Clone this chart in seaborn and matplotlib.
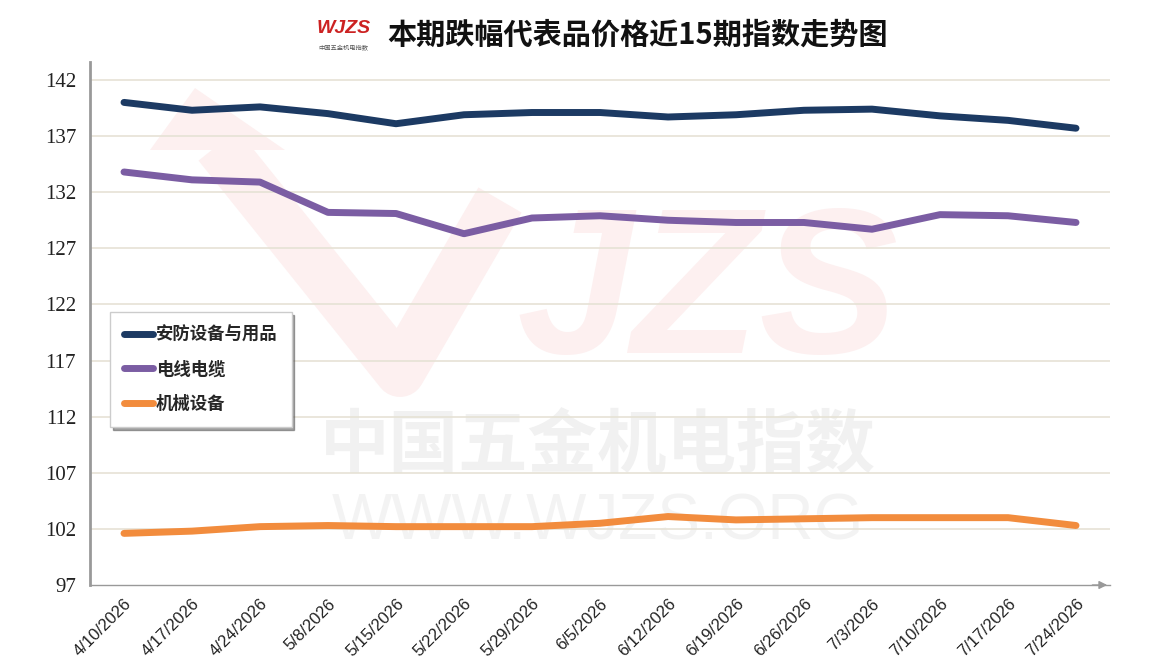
import matplotlib
matplotlib.use("Agg")
import matplotlib.pyplot as plt
import seaborn as sns
import pandas as pd
import numpy as np
from matplotlib.lines import Line2D
from matplotlib.patches import Polygon

dates = ["4/10/2026", "4/17/2026", "4/24/2026", "5/8/2026", "5/15/2026",
         "5/22/2026", "5/29/2026", "6/5/2026", "6/12/2026", "6/19/2026",
         "6/26/2026", "7/3/2026", "7/10/2026", "7/17/2026", "7/24/2026"]
security = [140.0, 139.3, 139.6, 139.0, 138.1, 138.9, 139.1, 139.1, 138.7, 138.9,
            139.3, 139.4, 138.8, 138.4, 137.7]
cable = [133.8, 133.1, 132.9, 130.2, 130.1, 128.3, 129.7, 129.9, 129.5, 129.3,
         129.3, 128.7, 130.0, 129.9, 129.3]
machinery = [101.6, 101.8, 102.2, 102.3, 102.2, 102.2, 102.2, 102.5, 103.1, 102.8,
             102.9, 103.0, 103.0, 103.0, 102.3]
series_names = ["安防设备与用品", "电线电缆", "机械设备"]
colors = ["#1c3a63", "#7b5da3", "#f28c3d"]
yticks = [97, 102, 107, 112, 117, 122, 127, 132, 137, 142]
title = "本期跌幅代表品价格近15期指数走势图"

sns.set_theme(style="white")
plt.rcParams['font.family'] = ['Noto Sans CJK SC', 'DejaVu Sans']

rows = []
for name, vals in zip(series_names, [security, cable, machinery]):
    for i, (d, v) in enumerate(zip(dates, vals)):
        rows.append({"idx": i, "date": d, "value": v, "series": name})
df = pd.DataFrame(rows)

W, H = 1160, 672
fig = plt.figure(figsize=(11.6, 6.72), dpi=100)
ax = fig.add_axes([90/W, 1-585/H, (1110-90)/W, (585-62)/H])
ax.patch.set_alpha(0)

# faint watermark: arrow + W stroke, "JZS" letters, Chinese name and URL
def fp(x, y):
    return (x / W, 1 - y / H)

wm = "#fdf0f0"
head = Polygon([fp(195, 88), fp(150, 150), fp(285, 150)], closed=True,
               transform=fig.transFigure, facecolor=wm, edgecolor="none", zorder=-2)
fig.patches.append(head)
wx, wy = zip(*[fp(218, 145), fp(400, 372), fp(500, 200)])
fig.lines.append(Line2D(wx, wy, transform=fig.transFigure, color=wm, lw=36,
                        solid_joinstyle="round", solid_capstyle="butt", zorder=-2))
fig.text(0.61, 0.555, "JZS", ha="center", va="center", fontsize=150,
         fontweight="bold", fontstyle="italic", color=wm, zorder=-2,
         family=['Liberation Sans'])
fig.text(0.515, 0.335, "中国五金机电指数", ha="center", va="center", fontsize=50,
         color="#f1f1f1", fontweight="bold", zorder=-2, family=['Noto Sans CJK SC'])
fig.text(0.515, 0.222, "WWW.WJZS.ORG", ha="center", va="center", fontsize=46,
         color="#f3f3f3", zorder=-2, family=['Liberation Sans'])

sns.lineplot(data=df, x="idx", y="value", hue="series", palette=colors,
             hue_order=series_names, linewidth=5, ax=ax, legend=False, sort=False,
             solid_capstyle="round", solid_joinstyle="round")

ax.set_ylim(97, 143.6)
ax.set_xlim(-0.41, 14.47)
ax.set_yticks(yticks)
ax.set_yticklabels([str(t) for t in yticks], family=['Liberation Serif'], fontsize=15, color="#222222")
ax.set_xticks(range(len(dates)))
ax.set_xticklabels(dates, rotation=45, ha="right", rotation_mode="anchor",
                   family=['Liberation Sans'], fontsize=12, color="#222222")
ax.tick_params(axis="x", which="major", length=0, pad=8)
ax.set_xticks(np.arange(-0.5, 14.6, 1), minor=True)
ax.tick_params(axis="x", which="minor", length=5, color="#999999", direction="out")
ax.tick_params(axis="y", length=6, color="#888888", direction="out", pad=4)
for t in yticks[1:]:
    ax.axhline(t, color="#e6e2d5", linewidth=1.2, zorder=0)
ax.set_xlabel("")
ax.set_ylabel("")
for s in ["top", "right"]:
    ax.spines[s].set_visible(False)
ax.spines["left"].set_color("#999999")
ax.spines["left"].set_linewidth(2)
ax.spines["bottom"].set_color("#999999")
ax.spines["bottom"].set_linewidth(1)
ax.annotate("", xy=(1.0, 0), xytext=(0.98, 0), xycoords="axes fraction",
            arrowprops=dict(arrowstyle="-|>", color="#999999", lw=1))

# legend
handles = [Line2D([0], [0], color=c, lw=5, solid_capstyle="round") for c in colors]
leg = ax.legend(handles, series_names, loc="upper left",
                bbox_to_anchor=((110-90)/1020, (585-312)/523),
                frameon=True, fancybox=False, shadow=True,
                handlelength=1.7, handletextpad=0.15, labelspacing=0.95,
                borderpad=0.8, borderaxespad=0,
                prop={'family': ['Noto Sans CJK SC'], 'size': 12.5, 'weight': 'bold'})
leg.get_frame().set_edgecolor("#cccccc")

# title and logo
fig.text(0.55, 0.948, title, ha="center", va="center", fontsize=21,
         fontweight="bold", color="#111111", family=['Noto Sans CJK SC'])
fig.text(0.296, 0.958, "WJZS", ha="center", va="center", fontsize=14,
         fontweight="bold", fontstyle="italic", color="#cc2222", family=['Liberation Sans'])
fig.text(0.296, 0.928, "中国五金机电指数", ha="center", va="center", fontsize=4.5,
         color="#555555", family=['Noto Sans CJK SC'])

fig.savefig("out.png", dpi=100)
